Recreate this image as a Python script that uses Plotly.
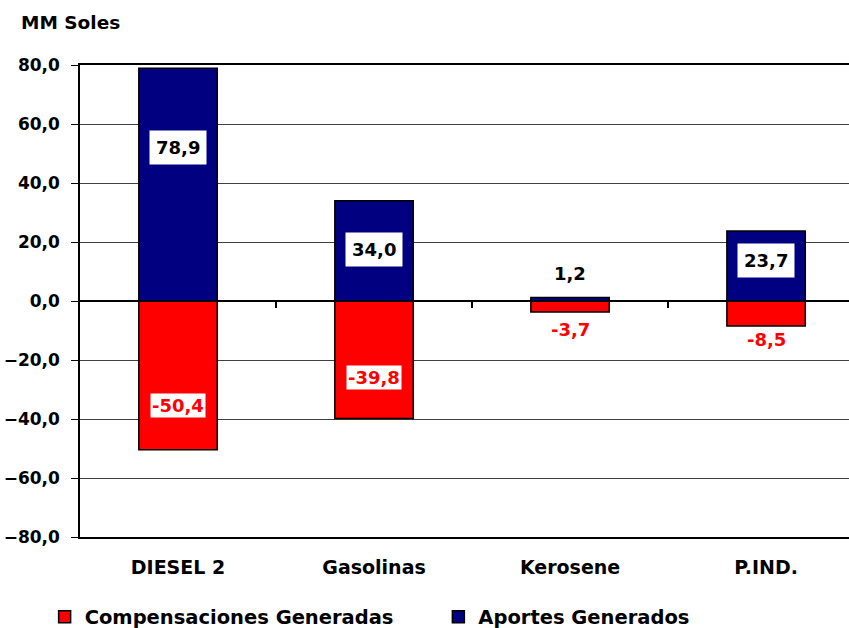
import plotly.graph_objects as go

# Chart data
categories = ["DIESEL 2", "Gasolinas", "Kerosene", "P.IND."]
compensaciones = [-50.4, -39.8, -3.7, -8.5]
aportes = [78.9, 34.0, 1.2, 23.7]

# Label anchor levels (value-axis units)
aportes_label_y = [52.2, 17.3, 9.3, 13.6]
compens_label_y = [-35.4, -25.8, -9.5, -12.9]

FONT = "DejaVu Sans, sans-serif"
x_idx = list(range(len(categories)))

fig = go.Figure()

fig.add_trace(go.Bar(
    x=x_idx, y=compensaciones, name="Compensaciones Generadas",
    marker=dict(color="#FF0000", line=dict(color="black", width=1.5)),
    width=0.4, hoverinfo="skip", legend="legend"
))
fig.add_trace(go.Bar(
    x=x_idx, y=aportes, name="Aportes Generados",
    marker=dict(color="#000080", line=dict(color="black", width=1.5)),
    width=0.4, hoverinfo="skip", legend="legend2"
))
# invisible trace so the zero-line tick axis renders
fig.add_trace(go.Scatter(x=[0], y=[0], xaxis="x2", mode="markers",
                         marker=dict(opacity=0), showlegend=False,
                         hoverinfo="skip"))

# data labels
for i, (a, c) in enumerate(zip(aportes, compensaciones)):
    boxed = a > 5
    fig.add_annotation(
        x=i, y=aportes_label_y[i], text=f"{a:.1f}".replace(".", ","),
        showarrow=False, font=dict(family=FONT, size=18, color="black", weight="bold"),
        bgcolor="white" if boxed else "rgba(0,0,0,0)", borderpad=6 if boxed else 0
    )
    boxed = c < -20
    fig.add_annotation(
        x=i, y=compens_label_y[i], text=f"{c:.1f}".replace(".", ","),
        showarrow=False, font=dict(family=FONT, size=18, color="#FF0000", weight="bold"),
        bgcolor="white" if boxed else "rgba(0,0,0,0)", borderpad=1 if boxed else 0
    )

fig.add_annotation(
    xref="paper", yref="paper", x=-0.079, y=1.091, xanchor="left", yanchor="middle",
    text="MM Soles", showarrow=False,
    font=dict(family=FONT, size=18.5, color="black", weight="bold")
)

legend_font = dict(family=FONT, size=19.5, color="black", weight="bold")
xrange = [-0.5, 3.423]
fig.update_layout(
    width=849, height=628,
    margin=dict(l=80, r=0, t=65, b=91, autoexpand=False),
    plot_bgcolor="white", paper_bgcolor="white",
    barmode="relative",
    separators=",.",
    showlegend=True,
    legend=dict(
        orientation="h", x=-0.046, xanchor="left",
        yref="container", y=(628 - 617) / 628, yanchor="middle",
        font=legend_font, itemwidth=30
    ),
    legend2=dict(
        orientation="h", x=0.466, xanchor="left",
        yref="container", y=(628 - 617) / 628, yanchor="middle",
        font=legend_font, itemwidth=30
    ),
    xaxis=dict(
        range=xrange, tickvals=x_idx, ticktext=categories,
        showgrid=False, zeroline=False, ticks="",
        showline=True, mirror=True, linecolor="black", linewidth=1.5,
        tickfont=dict(family=FONT, size=19, color="black", weight="bold"),
        ticklabelstandoff=12, automargin=False
    ),
    xaxis2=dict(
        overlaying="x", anchor="free", position=0.5, side="bottom",
        range=xrange, tickvals=[0.5, 1.5, 2.5], showticklabels=False,
        ticks="outside", ticklen=6, tickcolor="black", tickwidth=1.5,
        showgrid=False, zeroline=False, showline=False, automargin=False
    ),
    yaxis=dict(
        range=[-80, 80], dtick=20, tickformat=".1f",
        showgrid=True, gridcolor="#404040", gridwidth=1,
        zeroline=True, zerolinecolor="black", zerolinewidth=1.5,
        showline=True, linecolor="black", linewidth=1.5,
        ticks="outside", ticklen=7, tickcolor="black",
        tickfont=dict(family=FONT, size=17, color="black", weight="bold"),
        ticklabelstandoff=8, automargin=False
    ),
)

# drop the default page margin so the figure sits at the top-left corner
fig.write_html("out.html", config={"displayModeBar": False},
               post_script="document.body.style.margin='0';")
